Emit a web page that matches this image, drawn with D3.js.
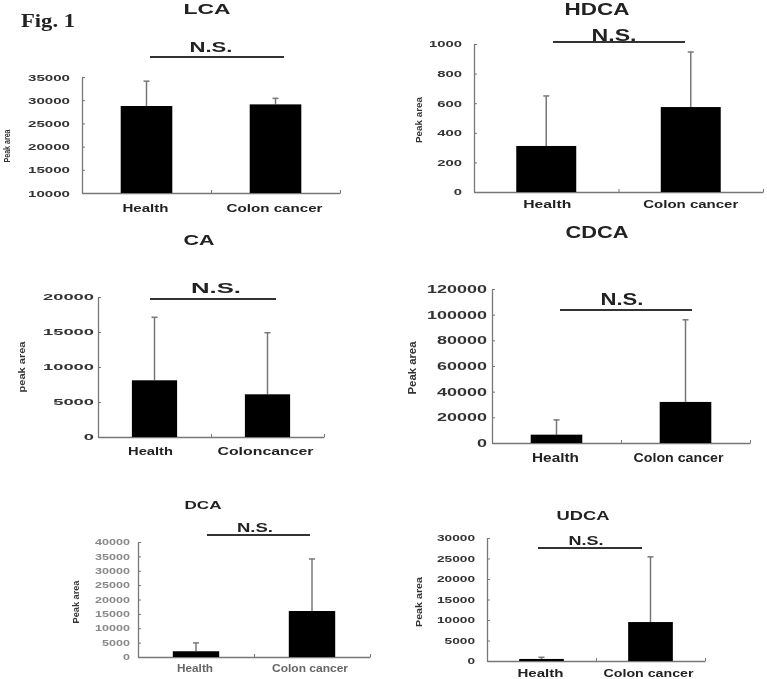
<!DOCTYPE html>
<html>
<head>
<meta charset="utf-8">
<script src="https://cdn.jsdelivr.net/npm/d3@7"></script>
<style>
  html, body { margin: 0; padding: 0; background: #fff; }
  svg { display: block; filter: blur(0.35px); }
  text { font-family: "Liberation Sans", Arial, sans-serif; font-weight: bold; }
</style>
</head>
<body>
<svg id="chart" width="767" height="679"></svg>
<script>
// ---------------- DATA ----------------
const groups = ["Health", "Colon cancer"];
const groupsCA = ["Health", "Coloncancer"];

const lcaMean = [28750, 29100];
const lcaSD = [5350, 1300];
const lcaTicks = [10000, 15000, 20000, 25000, 30000, 35000];

const hdcaMean = [311, 574];
const hdcaSD = [338, 372];
const hdcaTicks = [0, 200, 400, 600, 800, 1000];

const caMean = [8100, 6100];
const caSD = [9000, 8800];
const caTicks = [0, 5000, 10000, 15000, 20000];

const cdcaMean = [6500, 32000];
const cdcaSD = [11500, 64000];
const cdcaTicks = [0, 20000, 40000, 60000, 80000, 100000, 120000];

const dcaMean = [2000, 16000];
const dcaSD = [2900, 18100];
const dcaTicks = [0, 5000, 10000, 15000, 20000, 25000, 30000, 35000, 40000];

const udcaMean = [500, 9500];
const udcaSD = [400, 15900];
const udcaTicks = [0, 5000, 10000, 15000, 20000, 25000, 30000];

const titles = ["LCA", "HDCA", "CA", "CDCA", "DCA", "UDCA"];
const yTitles = ["Peak area", "Peak area", "peak area", "Peak area", "Peak area", "Peak area"];
const sigLabel = "N.S.";
const figLabel = "Fig. 1";

// ---------------- LAYOUT ----------------
const panels = [
  { title: titles[0], yTitle: yTitles[0], cats: groups, mean: lcaMean, sd: lcaSD, ticks: lcaTicks,
    x0: 82, x1: 340, yTop: 77, yBot: 193, pad: 0.6,
    tX: 207, tY: 14, tSize: 15, tW: 47,
    nsX: 211, nsY: 52, nsSize: 14, nsW: 43, lx0: 150, lx1: 284, ly: 57,
    tkSize: 9.5, tkCW: 8.4, tkPad: 12, tkColor: "#333",
    ytX: 10, ytY: 146, ytW: 33, ytSize: 9,
    xlY: 212, xlSize: 11, xlW: [46, 96], xlDx: [-1, -1] },
  { title: titles[1], yTitle: yTitles[1], cats: groups, mean: hdcaMean, sd: hdcaSD, ticks: hdcaTicks,
    x0: 474, x1: 763, yTop: 44, yBot: 192, pad: 0.585,
    tX: 597, tY: 15, tSize: 17, tW: 65,
    nsX: 614, nsY: 41, nsSize: 16, nsW: 45, lx0: 553, lx1: 685, ly: 42,
    tkSize: 9, tkCW: 8.25, tkPad: 12, tkColor: "#333",
    ytX: 422, ytY: 120, ytW: 46, ytSize: 9,
    xlY: 208, xlSize: 11, xlW: [48, 95], xlDx: [1, 0] },
  { title: titles[2], yTitle: yTitles[2], cats: groupsCA, mean: caMean, sd: caSD, ticks: caTicks,
    x0: 98, x1: 324, yTop: 297, yBot: 437, pad: 0.6,
    tX: 199, tY: 245, tSize: 15, tW: 31,
    nsX: 216, nsY: 293, nsSize: 15, nsW: 50, lx0: 150, lx1: 276, ly: 299,
    tkSize: 9, tkCW: 10.2, tkPad: 4, tkColor: "#333",
    ytX: 25, ytY: 367, ytW: 51, ytSize: 9,
    xlY: 455, xlSize: 11, xlW: [45, 96], xlDx: [-4, -2] },
  { title: titles[3], yTitle: yTitles[3], cats: groups, mean: cdcaMean, sd: cdcaSD, ticks: cdcaTicks,
    x0: 492, x1: 750, yTop: 289, yBot: 443, pad: 0.6,
    tX: 597, tY: 238, tSize: 17, tW: 63,
    nsX: 622, nsY: 305, nsSize: 16, nsW: 43, lx0: 560, lx1: 692, ly: 310,
    tkSize: 10.5, tkCW: 10, tkPad: 5, tkColor: "#333",
    ytX: 416, ytY: 368, ytW: 53, ytSize: 10,
    xlY: 462, xlSize: 12, xlW: [47, 90], xlDx: [-1, -7] },
  { title: titles[4], yTitle: yTitles[4], cats: groups, mean: dcaMean, sd: dcaSD, ticks: dcaTicks,
    x0: 138, x1: 370, yTop: 542, yBot: 657, pad: 0.6,
    tX: 203, tY: 509, tSize: 11.5, tW: 37,
    nsX: 255, nsY: 532, nsSize: 12, nsW: 36, lx0: 207, lx1: 310, ly: 535,
    tkSize: 8.5, tkCW: 7, tkPad: 8, tkColor: "#888",
    ytX: 79, ytY: 602, ytW: 43, ytSize: 9,
    xlY: 672, xlSize: 10, xlW: [36, 76], xlDx: [-1, -2], xlColor: "#666" },
  { title: titles[5], yTitle: yTitles[5], cats: groups, mean: udcaMean, sd: udcaSD, ticks: udcaTicks,
    x0: 487, x1: 705, yTop: 538, yBot: 661, pad: 0.59,
    tX: 583, tY: 520, tSize: 12.5, tW: 53,
    nsX: 586, nsY: 545, nsSize: 12, nsW: 35, lx0: 538, lx1: 642, ly: 548,
    tkSize: 8.5, tkCW: 7.6, tkPad: 12, tkColor: "#333",
    ytX: 422, ytY: 602, ytW: 50, ytSize: 9,
    xlY: 677, xlSize: 11, xlW: [46, 90], xlDx: [-1, -2] }
];

// ---------------- DRAW ----------------
const svg = d3.select("#chart");

svg.append("text")
  .attr("x", 21).attr("y", 27)
  .attr("textLength", 54).attr("lengthAdjust", "spacingAndGlyphs")
  .style("font-family", "'Liberation Serif', 'Times New Roman', serif")
  .style("font-size", "19px").attr("fill", "#222")
  .text(figLabel);

const axisColor = "#777";

panels.forEach(p => {
  const g = svg.append("g");
  const x = d3.scaleBand().domain(p.cats).range([p.x0, p.x1])
    .paddingInner(p.pad).paddingOuter(p.pad / 2);
  const y = d3.scaleLinear().domain(d3.extent(p.ticks)).range([p.yBot, p.yTop]);
  const base = d3.min(p.ticks);

  // y axis
  const yAxis = d3.axisLeft(y).tickValues(p.ticks).tickSizeInner(-3).tickSizeOuter(0)
    .tickPadding(p.tkPad).tickFormat(d3.format("d"));
  const ya = g.append("g").attr("transform", `translate(${p.x0},0)`).call(yAxis);
  ya.select(".domain").attr("stroke", axisColor).attr("stroke-width", 1.3);
  ya.selectAll(".tick line").attr("stroke", axisColor).attr("stroke-width", 1);
  ya.selectAll(".tick text")
    .attr("fill", p.tkColor)
    .style("font-size", p.tkSize + "px")
    .style("font-family", "'Liberation Sans', Arial, sans-serif")
    .style("font-weight", "bold")
    .each(function (d) {
      const s = d3.format("d")(d);
      d3.select(this).attr("textLength", s.length * p.tkCW).attr("lengthAdjust", "spacingAndGlyphs");
    });

  // x axis (line with inward ticks at ends and middle)
  const xt = d3.scaleLinear().domain([0, 2]).range([p.x0, p.x1]);
  const xAxis = d3.axisBottom(xt).tickValues([0, 1, 2]).tickSizeInner(-3).tickSizeOuter(0).tickFormat("");
  const xa = g.append("g").attr("transform", `translate(0,${p.yBot})`).call(xAxis);
  xa.select(".domain").attr("stroke", axisColor).attr("stroke-width", 1.3);
  xa.selectAll(".tick line").attr("stroke", axisColor).attr("stroke-width", 1);

  // error bars (upward only)
  const cx = c => x(c) + x.bandwidth() / 2;
  g.selectAll(".err").data(p.cats).join("line")
    .attr("x1", cx).attr("x2", cx)
    .attr("y1", (c, i) => y(p.mean[i]))
    .attr("y2", (c, i) => y(p.mean[i] + p.sd[i]))
    .attr("stroke", "#777").attr("stroke-width", 1.5);
  g.selectAll(".cap").data(p.cats).join("line")
    .attr("x1", c => cx(c) - 3).attr("x2", c => cx(c) + 3)
    .attr("y1", (c, i) => y(p.mean[i] + p.sd[i]))
    .attr("y2", (c, i) => y(p.mean[i] + p.sd[i]))
    .attr("stroke", "#777").attr("stroke-width", 1.5);

  // bars
  g.selectAll(".bar").data(p.cats).join("rect")
    .attr("x", c => x(c)).attr("width", x.bandwidth())
    .attr("y", (c, i) => y(p.mean[i]))
    .attr("height", (c, i) => y(base) - y(p.mean[i]))
    .attr("fill", "#000");

  // x labels
  g.selectAll(".xl").data(p.cats).join("text")
    .attr("x", (c, i) => cx(c) + p.xlDx[i]).attr("y", p.xlY)
    .attr("text-anchor", "middle")
    .attr("textLength", (c, i) => p.xlW[i]).attr("lengthAdjust", "spacingAndGlyphs")
    .style("font-size", p.xlSize + "px").attr("fill", p.xlColor || "#222")
    .text(c => c);

  // y title
  g.append("text")
    .attr("transform", `translate(${p.ytX},${p.ytY}) rotate(-90)`)
    .attr("text-anchor", "middle")
    .attr("textLength", p.ytW).attr("lengthAdjust", "spacingAndGlyphs")
    .style("font-size", p.ytSize + "px").attr("fill", "#333")
    .text(p.yTitle);

  // title
  g.append("text")
    .attr("x", p.tX).attr("y", p.tY).attr("text-anchor", "middle")
    .attr("textLength", p.tW).attr("lengthAdjust", "spacingAndGlyphs")
    .style("font-size", p.tSize + "px").attr("fill", "#222")
    .text(p.title);

  // significance bracket
  g.append("line")
    .attr("x1", p.lx0).attr("x2", p.lx1).attr("y1", p.ly).attr("y2", p.ly)
    .attr("stroke", "#333").attr("stroke-width", 2);
  g.append("text")
    .attr("x", p.nsX).attr("y", p.nsY).attr("text-anchor", "middle")
    .attr("textLength", p.nsW).attr("lengthAdjust", "spacingAndGlyphs")
    .style("font-size", p.nsSize + "px").attr("fill", "#222")
    .text(sigLabel);
});
</script>
</body>
</html>
